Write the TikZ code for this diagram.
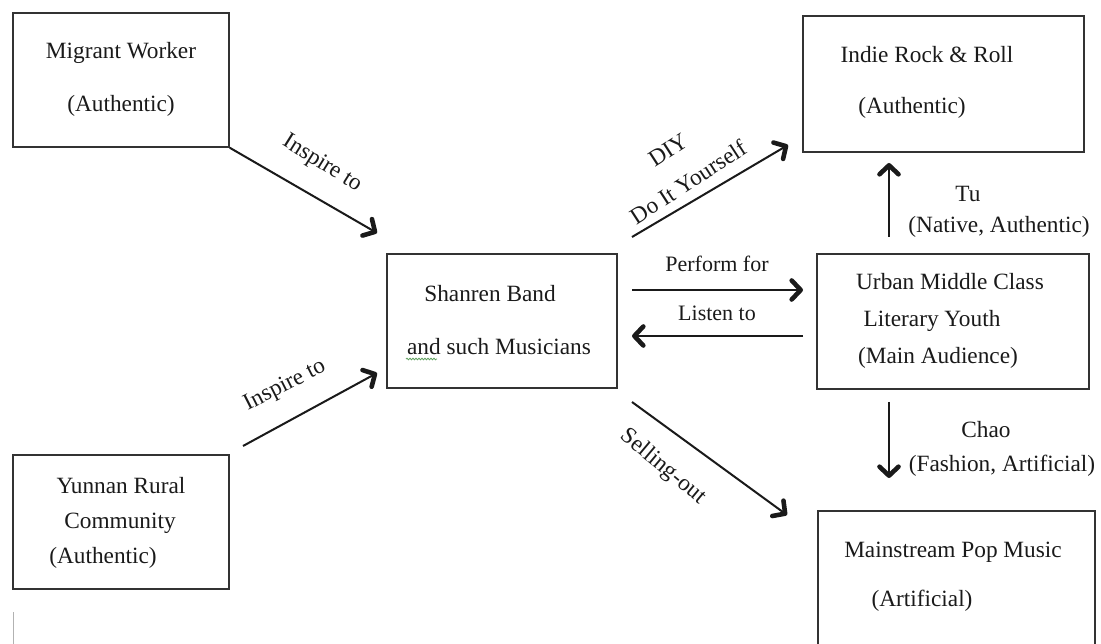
\documentclass[tikz,border=0pt]{standalone}
\usepackage{fontspec}
\setmainfont{Liberation Serif}
\usetikzlibrary{arrows.meta,decorations.pathmorphing}
\definecolor{ink}{HTML}{1A1A1A}
\definecolor{frame}{HTML}{333333}
\definecolor{spell}{HTML}{5FA05F}
\tikzset{
  box/.style={draw=frame, line width=1.5pt, inner sep=0pt, rectangle},
  txt/.style={inner sep=0pt, anchor=base, text=ink, font=\fontsize{23.3}{28}\selectfont},
  smalltxt/.style={inner sep=0pt, anchor=base, text=ink, font=\fontsize{22}{26}\selectfont},
  rottxt/.style={inner sep=0pt, anchor=center, text=ink, font=\fontsize{23.3}{28}\selectfont},
  arr/.style={draw=ink, line width=2pt, -{Straight Barb[length=9pt,width=19pt,line width=4.6pt,round]}}
}
\begin{document}
\begin{tikzpicture}[x=1pt,y=-1pt]
\clip (0,0) rectangle (1101,644);
\fill[white] (0,0) rectangle (1101,644);

% boxes
\node[box, minimum width=216pt, minimum height=134pt] (migrant) at (121,80) {};
\node[box, minimum width=216pt, minimum height=134pt] (yunnan) at (121,522) {};
\node[box, minimum width=230pt, minimum height=134pt] (shanren) at (502,321) {};
\node[box, minimum width=281pt, minimum height=136pt] (indie) at (943.5,84) {};
\node[box, minimum width=272pt, minimum height=135pt] (urban) at (953,321.5) {};
\node[box, minimum width=277pt, minimum height=141pt] (pop) at (956.5,581.5) {};

% box texts
\node[txt] (t1) at (121,59) {Migrant Worker};
\node[txt] (t2) at (121,112) {(Authentic)};
\node[txt] (t3) at (927,63) {Indie Rock \& Roll};
\node[txt] (t4) at (912,114) {(Authentic)};
\node[txt] (t5) at (490,302) {Shanren Band};
\node[txt] (t6) at (499,355) {and such Musicians};
\node[txt] (t7) at (950,290) {Urban Middle Class};
\node[txt] (t8) at (932,327) {Literary Youth};
\node[txt] (t9) at (938,363) {(Main Audience)};
\node[txt] (t10) at (953,557) {Mainstream Pop Music};
\node[txt] (t11) at (922,606) {(Artificial)};
\node[txt] (t12) at (121,493) {Yunnan Rural};
\node[txt] (t13) at (120,528) {Community};
\node[txt] (t14) at (103,563) {(Authentic)};

% spell-check underline under "and"
\coordinate (u1) at (406,359);
\coordinate (u2) at (437,359);
\draw[spell, line width=0.8pt, decorate, decoration={snake, segment length=3pt, amplitude=0.8pt}] (u1) -- (u2);

% arrow end points
\coordinate (a1e) at (377,233);
\coordinate (a2s) at (243,446);
\coordinate (a2e) at (377,373);
\coordinate (a3s) at (632,237);
\coordinate (a3e) at (788,145);
\coordinate (a4s) at (632,290);
\coordinate (a4e) at (803,290);
\coordinate (a5s) at (803,336);
\coordinate (a5e) at (632,336);
\coordinate (a6s) at (632,402);
\coordinate (a6e) at (787,515);
\coordinate (a7s) at (889,237);
\coordinate (a7e) at (889,163);
\coordinate (a8s) at (889,402);
\coordinate (a8e) at (889,478);

\draw[arr] (migrant.south east) -- (a1e);
\draw[arr] (a2s) -- (a2e);
\draw[arr] (a3s) -- (a3e);
\draw[arr] (a4s) -- (a4e);
\draw[arr] (a5s) -- (a5e);
\draw[arr] (a6s) -- (a6e);
\draw[arr] (a7s) -- (a7e);
\draw[arr] (a8s) -- (a8e);

% arrow labels
\node[rottxt, rotate=-32] (l1) at (322,164) {Inspire to};
\node[rottxt, rotate=27] (l2) at (285,386) {Inspire to};
\node[rottxt, rotate=33] (l3) at (668,150) {DIY};
\node[rottxt, rotate=33] (l4) at (688,182) {Do It Yourself};
\node[smalltxt] (l5) at (717,272) {Perform for};
\node[smalltxt] (l6) at (717,321) {Listen to};
\node[rottxt, rotate=-40] (l7) at (663,467) {Selling-out};
\node[txt] (l8) at (968,202) {Tu};
\node[txt] (l9) at (999,233) {(Native, Authentic)};
\node[txt] (l10) at (986,437) {Chao};
\node[txt] (l11) at (1002,471) {(Fashion, Artificial)};

% small mark at bottom left
\coordinate (m1) at (13,612);
\coordinate (m2) at (13,644);
\draw[gray!60, line width=1pt] (m1) -- (m2);
\end{tikzpicture}
\end{document}
